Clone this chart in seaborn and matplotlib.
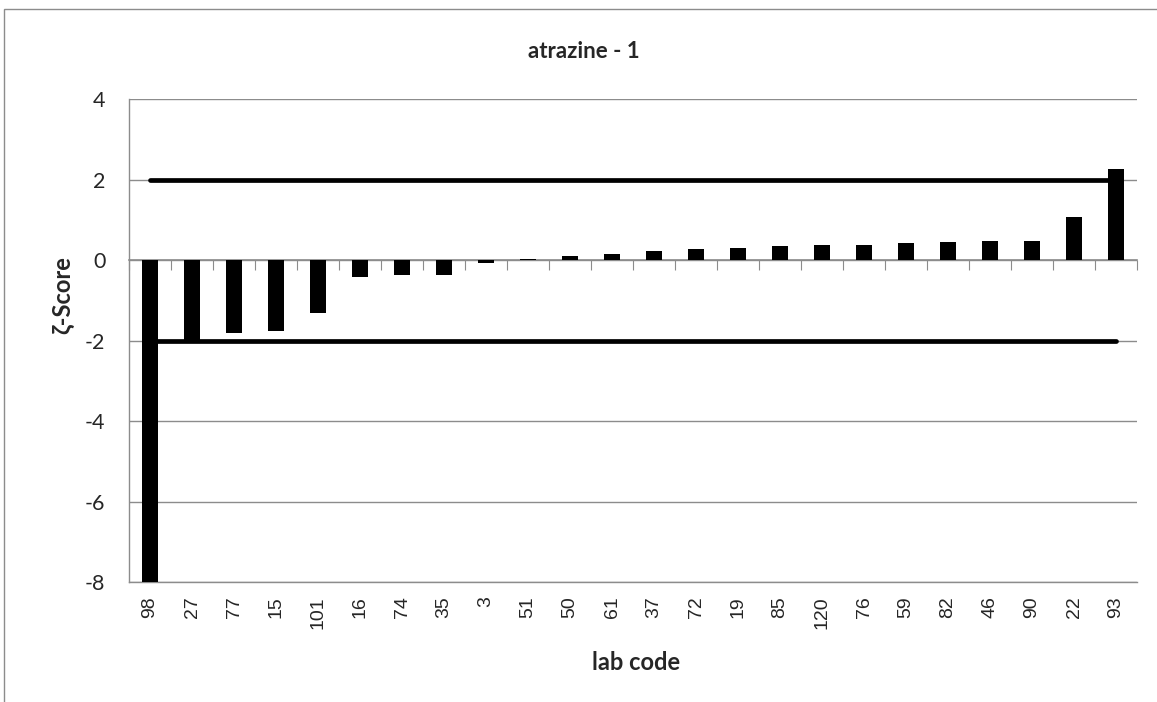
import numpy as np
import matplotlib.pyplot as plt
import seaborn as sns

# lab codes sorted by zeta score
lab_codes = ['98', '27', '77', '15', '101', '16', '74', '35', '3', '51', '50', '61',
             '37', '72', '19', '85', '120', '76', '59', '82', '46', '90', '22', '93']
zeta = [-8.5, -1.99, -1.82, -1.76, -1.32, -0.41, -0.38, -0.37, -0.08, 0.02, 0.10, 0.14,
        0.23, 0.28, 0.31, 0.34, 0.37, 0.38, 0.42, 0.45, 0.46, 0.46, 1.07, 2.25]
upper_limit = [2] * len(lab_codes)
lower_limit = [-2] * len(lab_codes)
y_ticks = [-8, -6, -4, -2, 0, 2, 4]

sns.set_style('white')
plt.rcParams['font.family'] = ['Lato', 'DejaVu Sans']
plt.rcParams['axes.unicode_minus'] = False

grey = '#8c8c8c'
fig = plt.figure(figsize=(11.57, 7.02), dpi=100)
ax = fig.add_axes([129 / 1157, 1 - 582 / 702, (1137 - 129) / 1157, (582 - 99) / 702])

pos = np.arange(len(lab_codes))
# limit lines go under the bars
sns.lineplot(x=pos, y=upper_limit, color='black', lw=3.4, ax=ax, zorder=2,
             solid_capstyle='round')
sns.lineplot(x=pos, y=lower_limit, color='black', lw=3.4, ax=ax, zorder=2,
             solid_capstyle='round')
sns.barplot(x=lab_codes, y=zeta, order=lab_codes, color='black', saturation=1,
            width=0.4, linewidth=0, ax=ax, zorder=3)

ax.set_xlim(-0.5, len(lab_codes) - 0.5)
ax.set_ylim(-8, 4)
ax.set_yticks(y_ticks)
ax.set_xticks(pos)
ax.set_xticklabels(lab_codes, rotation=90, fontsize=14, family='Liberation Sans')
ax.tick_params(axis='x', length=0, pad=10)
ax.tick_params(axis='y', length=7, color=grey, direction='out', labelsize=15.5, pad=10)
ax.yaxis.grid(True, color=grey, lw=1)
ax.xaxis.grid(False)
ax.set_axisbelow(True)
for s in ['top', 'right']:
    ax.spines[s].set_visible(False)
for s in ['left', 'bottom']:
    ax.spines[s].set_color(grey)
    ax.spines[s].set_linewidth(1)
ax.set_xlabel('')
ax.set_ylabel('')

# category axis crossing at zero with boundary ticks pointing down
sec = ax.secondary_xaxis(2 / 3)
sec.set_xticks(np.arange(-0.5, len(lab_codes), 1))
sec.set_xticklabels([])
sec.tick_params(axis='x', length=7, color=grey, direction='in')
for sp in sec.spines.values():
    sp.set_color(grey)
    sp.set_linewidth(1.2)
    sp.set_zorder(4)

fig.text(584 / 1157, 1 - 52 / 702, 'atrazine - 1', ha='center', va='center',
         fontsize=16, fontweight='bold')
fig.text(62 / 1157, 1 - 295 / 702, 'ζ-Score', ha='center', va='center', rotation=90,
         fontsize=17, fontweight='bold')
fig.text(636 / 1157, 1 - 663 / 702, 'lab code', ha='center', va='center',
         fontsize=17, fontweight='bold')

# chart area border
fig.add_artist(plt.Rectangle((4 / 1157, -0.1), 1.2, 1 - 9 / 702 + 0.1,
                             transform=fig.transFigure, fill=False,
                             edgecolor=grey, lw=1))

fig.savefig('out.png', dpi=100)
